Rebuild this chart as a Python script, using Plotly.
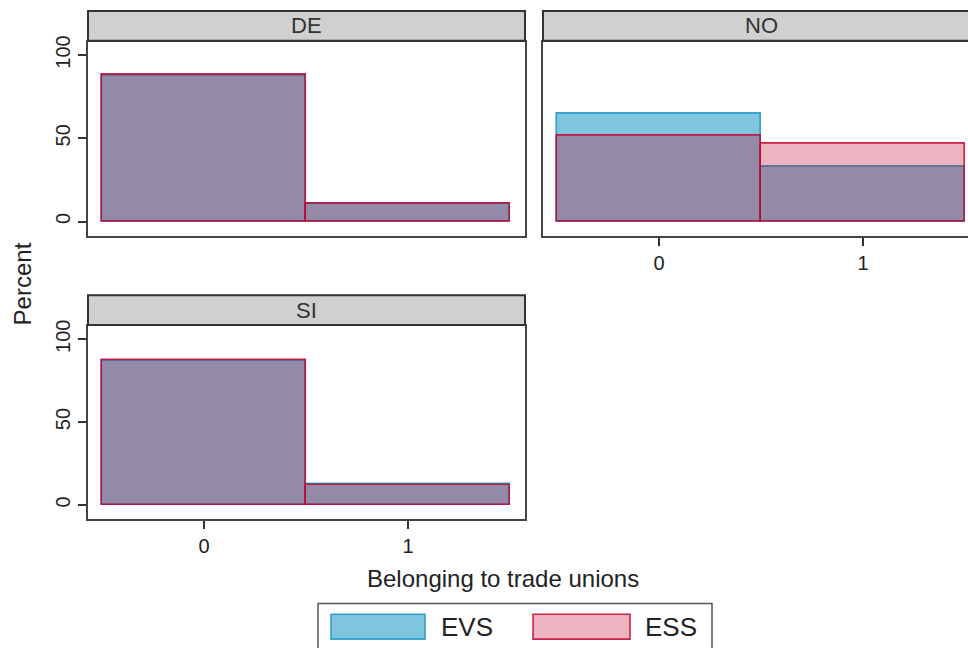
import plotly.graph_objects as go

W, H = 968, 648

# ---- data (percent) ----
categories = [0, 1]
panels = ["DE", "NO", "SI"]
evs_de = [87.5, 10.5]
ess_de = [88.0, 10.5]
evs_no = [65.0, 33.0]
ess_no = [51.5, 46.5]
evs_si = [87.0, 12.5]
ess_si = [87.5, 12.0]
y_ticks = [0, 50, 100]
x_ticks = [0, 1]
series_names = ["EVS", "ESS"]

EVS_FILL = "rgba(0,139,188,0.5)"
EVS_LINE = "rgba(0,139,188,0.75)"
ESS_FILL = "rgba(195,2,48,0.3)"
ESS_LINE = "rgba(195,2,48,0.85)"

FONT = "Liberation Sans, Arial, sans-serif"
TXT = "#222222"


def px(x):
    return x / W


def py(y):
    return 1 - y / H


fig = go.Figure()

axis_ids = [("x", "y"), ("x2", "y2"), ("x3", "y3")]
data_sets = [(evs_de, ess_de), (evs_no, ess_no), (evs_si, ess_si)]
for (xa, ya), (ev, es) in zip(axis_ids, data_sets):
    fig.add_trace(go.Bar(x=categories, y=ev, width=1, xaxis=xa, yaxis=ya,
                         marker=dict(color=EVS_FILL, line=dict(color=EVS_LINE, width=1.6)),
                         name=series_names[0], showlegend=False))
    fig.add_trace(go.Bar(x=categories, y=es, width=1, xaxis=xa, yaxis=ya,
                         marker=dict(color=ESS_FILL, line=dict(color=ESS_LINE, width=1.6)),
                         name=series_names[1], showlegend=False))

# panel geometry in pixels
de_x = (88, 525)
no_x = (543, 968)
top_y = (36, 232)
bot_y = (323, 518)
YR = [-8.6, 108.0]

TICKFONT = dict(family=FONT, size=20, color=TXT)

common_y = dict(range=YR, tickvals=y_ticks, ticks="outside", ticklen=8, tickwidth=1.5,
                tickcolor="#333", showgrid=False, zeroline=False, tickangle=-90,
                tickfont=TICKFONT, showline=True,
                linecolor="#444", linewidth=1.6, fixedrange=True)
common_x = dict(tickvals=x_ticks, showgrid=False, zeroline=False, showline=True,
                linecolor="#444", linewidth=1.6, tickfont=TICKFONT,
                fixedrange=True)

fig.update_layout(
    width=W, height=H, margin=dict(l=0, r=0, t=0, b=0),
    paper_bgcolor="white", plot_bgcolor="white", barmode="overlay", bargap=0,
    showlegend=False,
    font=dict(family=FONT, color=TXT),
    xaxis=dict(common_x, domain=[px(de_x[0]), px(de_x[1])], range=[-0.569, 1.574],
               anchor="y", ticks="", showticklabels=False, mirror=True),
    yaxis=dict(common_y, domain=[py(top_y[1]), py(top_y[0])], anchor="x", mirror=True),
    xaxis2=dict(common_x, domain=[px(no_x[0]), 1.0], range=[-0.569, 1.515],
                anchor="y2", ticks="outside", ticklen=8, tickwidth=1.5, tickcolor="#333",
                mirror=True),
    yaxis2=dict(common_y, domain=[py(top_y[1]), py(top_y[0])], anchor="x2",
                ticks="", showticklabels=False, mirror=False),
    xaxis3=dict(common_x, domain=[px(de_x[0]), px(de_x[1])], range=[-0.569, 1.574],
                anchor="y3", ticks="outside", ticklen=8, tickwidth=1.5, tickcolor="#333",
                mirror=True),
    yaxis3=dict(common_y, domain=[py(bot_y[1]), py(bot_y[0])], anchor="x3", mirror=True),
)

shapes = []
annotations = []

# header strips
headers = [("DE", de_x[0], de_x[1], 5, 35, (de_x[0] + de_x[1]) / 2),
           ("NO", no_x[0], 990, 5, 35, 761.5),
           ("SI", de_x[0], de_x[1], 292, 322, (de_x[0] + de_x[1]) / 2)]
for label, x0, x1, y0, y1, cx in headers:
    shapes.append(dict(type="rect", xref="paper", yref="paper",
                       x0=px(x0), x1=px(x1), y0=py(y1), y1=py(y0),
                       fillcolor="#d0d0d0", line=dict(color="#333", width=2), layer="above"))
    annotations.append(dict(text=label, xref="paper", yref="paper", x=px(cx), y=py((y0 + y1) / 2),
                            showarrow=False, xanchor="center", yanchor="middle",
                            font=dict(family=FONT, size=22, color="#333")))

# axis titles
annotations.append(dict(text="Percent", xref="paper", yref="paper", x=px(22), y=py(281),
                        showarrow=False, textangle=-90, xanchor="center", yanchor="middle",
                        font=dict(family=FONT, size=24, color=TXT)))
annotations.append(dict(text="Belonging to trade unions", xref="paper", yref="paper",
                        x=px(503), y=py(578), showarrow=False, xanchor="center", yanchor="middle",
                        font=dict(family=FONT, size=24, color=TXT)))

# legend box
shapes.append(dict(type="rect", xref="paper", yref="paper", x0=px(318), x1=px(712),
                   y0=py(670), y1=py(603), fillcolor="white", line=dict(color="#555", width=1.5)))
legend_items = [(series_names[0], 331, 425, EVS_FILL, EVS_LINE, 439),
                (series_names[1], 533, 630, ESS_FILL, ESS_LINE, 643)]
for name, x0, x1, fill, line, tx in legend_items:
    shapes.append(dict(type="rect", xref="paper", yref="paper", x0=px(x0), x1=px(x1),
                       y0=py(639), y1=py(614), fillcolor=fill, line=dict(color=line, width=1.6)))
    annotations.append(dict(text=name, xref="paper", yref="paper", x=px(tx), y=py(627),
                            showarrow=False, xanchor="left", yanchor="middle",
                            font=dict(family=FONT, size=26, color=TXT)))

fig.update_layout(shapes=shapes, annotations=annotations)

fig.write_html("out.html", config={"displayModeBar": False},
               post_script="document.body.style.margin='0';document.body.style.overflow='hidden';")
